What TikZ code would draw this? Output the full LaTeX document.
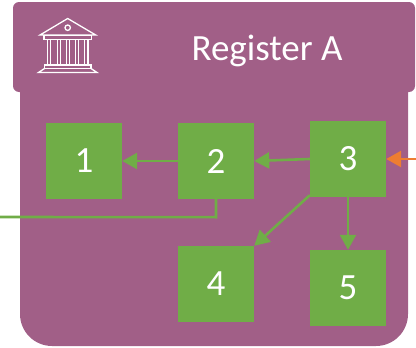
\documentclass[tikz,border=0pt]{standalone}
\usepackage{fontspec}
\setmainfont{Carlito}
\usetikzlibrary{arrows.meta}
\definecolor{plum}{RGB}{161,95,135}
\definecolor{leaf}{RGB}{112,173,71}
\definecolor{tang}{RGB}{237,125,49}
\tikzset{
  numbox/.style={fill=leaf,minimum width=76pt,minimum height=76pt,inner sep=0pt,text=white,font=\fontsize{37}{44}\selectfont},
  link/.style={draw=leaf,line width=2.6pt,-{Triangle[length=15pt,width=16pt]}},
  plainlink/.style={draw=leaf,line width=2.6pt},
  inlink/.style={draw=tang,line width=2.8pt,-{Triangle[length=15pt,width=16pt]}},
  icon/.style={draw=white,line width=1.3pt,line join=miter}
}
\begin{document}
\begin{tikzpicture}[x=1pt,y=-1pt]
\useasboundingbox (0,0) rectangle (416,348);
\fill[plum,rounded corners=32pt] (20,60) rectangle (408,346);
\fill[plum,rounded corners=6pt] (13,2) rectangle (415,92);
\node[text=white,font=\fontsize{37}{44}\selectfont,anchor=base] (title) at (267,60) {Register A};
\node[numbox] (n1) at (84,161) {1};
\node[numbox] (n2) at (216,161) {2};
\node[numbox] (n3) at (348,159) {3};
\node[numbox] (n4) at (216,284) {4};
\node[numbox] (n5) at (348,288) {5};
\coordinate (east) at (416,159);
\coordinate (west) at (0,217);
\draw[link] (n2.west) -- (n1.east);
\draw[link] (n3.west) -- (n2.east);
\draw[link] (n3.south west) ++(0,-2) -- (n4.north east);
\draw[link] (n3.south) -- (n5.north);
\draw[plainlink] (n2.south) -- ++(0,18) -- (west);
\draw[inlink] (east) -- (n3.east);
% bank icon
\draw[icon] (40,35) -- (67.7,18.5) -- (95.7,35) -- cycle;
\draw[icon] (67.7,27.7) circle (2.7);
\draw[icon] (44,35.5) rectangle (91.3,39.3);
\foreach \x in {47.3,50.7,57.3,60.7,66.5,69.5,75.3,78.7,84.7,88}{\draw[icon] (\x,39.3) -- (\x,65);}
\draw[icon] (44.5,65) rectangle (91,68.5);
\draw[icon] (44.5,68.5) -- (38.5,72.5) -- (97,72.5) -- (91,68.5);
\end{tikzpicture}
\end{document}
